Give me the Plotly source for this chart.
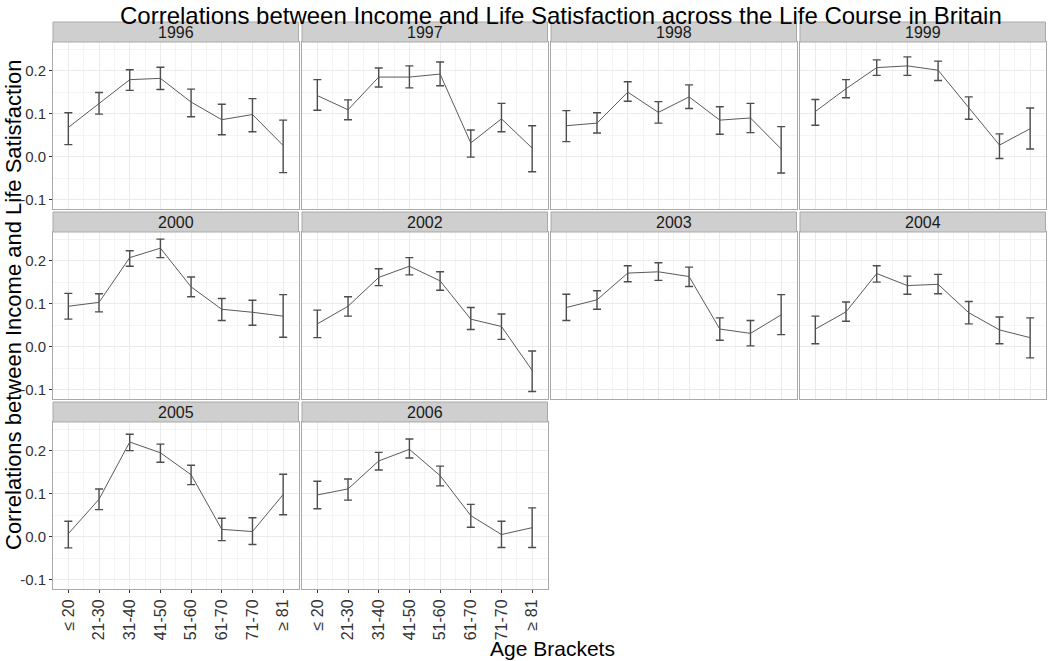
import plotly.graph_objects as go

age_labels = ["≤ 20", "21-30", "31-40", "41-50", "51-60", "61-70", "71-70", "≥ 81"]
years = ["1996", "1997", "1998", "1999", "2000", "2002", "2003", "2004", "2005", "2006"]
y_tick_vals = [-0.1, 0.0, 0.1, 0.2]
y_tick_text = ["-0.1", "0.0", "0.1", "0.2"]

corr_1996 = [0.068, 0.123, 0.179, 0.182, 0.127, 0.086, 0.098, 0.026]
upper_1996 = [0.102, 0.149, 0.202, 0.208, 0.157, 0.122, 0.135, 0.085]
lower_1996 = [0.028, 0.099, 0.154, 0.156, 0.093, 0.051, 0.058, -0.037]

corr_1997 = [0.142, 0.109, 0.185, 0.185, 0.192, 0.032, 0.088, 0.020]
upper_1997 = [0.179, 0.132, 0.206, 0.211, 0.220, 0.062, 0.124, 0.072]
lower_1997 = [0.108, 0.086, 0.162, 0.160, 0.165, -0.001, 0.058, -0.035]

corr_1998 = [0.072, 0.078, 0.150, 0.103, 0.139, 0.085, 0.090, 0.018]
upper_1998 = [0.107, 0.102, 0.174, 0.128, 0.167, 0.116, 0.124, 0.070]
lower_1998 = [0.035, 0.055, 0.129, 0.078, 0.112, 0.052, 0.056, -0.038]

corr_1999 = [0.105, 0.158, 0.207, 0.211, 0.201, 0.113, 0.027, 0.065]
upper_1999 = [0.133, 0.179, 0.225, 0.232, 0.222, 0.139, 0.053, 0.113]
lower_1999 = [0.073, 0.137, 0.189, 0.189, 0.177, 0.087, -0.004, 0.018]

corr_2000 = [0.094, 0.103, 0.207, 0.229, 0.139, 0.087, 0.080, 0.071]
upper_2000 = [0.124, 0.123, 0.223, 0.250, 0.162, 0.112, 0.108, 0.121]
lower_2000 = [0.064, 0.081, 0.187, 0.207, 0.116, 0.061, 0.050, 0.022]

corr_2002 = [0.053, 0.094, 0.161, 0.187, 0.153, 0.064, 0.047, -0.055]
upper_2002 = [0.085, 0.116, 0.181, 0.207, 0.174, 0.091, 0.076, -0.010]
lower_2002 = [0.021, 0.071, 0.142, 0.167, 0.131, 0.040, 0.017, -0.104]

corr_2003 = [0.091, 0.109, 0.171, 0.174, 0.163, 0.041, 0.031, 0.074]
upper_2003 = [0.122, 0.130, 0.188, 0.195, 0.185, 0.067, 0.061, 0.121]
lower_2003 = [0.061, 0.087, 0.151, 0.154, 0.140, 0.015, 0.002, 0.028]

corr_2004 = [0.041, 0.081, 0.170, 0.142, 0.145, 0.079, 0.039, 0.021]
upper_2004 = [0.071, 0.104, 0.188, 0.164, 0.168, 0.105, 0.069, 0.067]
lower_2004 = [0.007, 0.059, 0.150, 0.122, 0.123, 0.053, 0.007, -0.026]

corr_2005 = [0.007, 0.087, 0.220, 0.195, 0.144, 0.017, 0.012, 0.098]
upper_2005 = [0.036, 0.111, 0.238, 0.215, 0.166, 0.043, 0.044, 0.145]
lower_2005 = [-0.026, 0.063, 0.200, 0.173, 0.121, -0.009, -0.018, 0.051]

corr_2006 = [0.097, 0.111, 0.176, 0.203, 0.142, 0.049, 0.005, 0.021]
upper_2006 = [0.129, 0.134, 0.196, 0.227, 0.164, 0.075, 0.036, 0.067]
lower_2006 = [0.065, 0.085, 0.155, 0.183, 0.118, 0.022, -0.025, -0.025]

series = {
    "1996": (corr_1996, upper_1996, lower_1996),
    "1997": (corr_1997, upper_1997, lower_1997),
    "1998": (corr_1998, upper_1998, lower_1998),
    "1999": (corr_1999, upper_1999, lower_1999),
    "2000": (corr_2000, upper_2000, lower_2000),
    "2002": (corr_2002, upper_2002, lower_2002),
    "2003": (corr_2003, upper_2003, lower_2003),
    "2004": (corr_2004, upper_2004, lower_2004),
    "2005": (corr_2005, upper_2005, lower_2005),
    "2006": (corr_2006, upper_2006, lower_2006),
}

W, H = 1050, 661
FONT = "Liberation Sans, Arial, sans-serif"
LEFT0, PW, GAPX = 53.0, 245.5, 3.5
TOP0, PH, STRIP, PITCH = 42.0, 167.0, 20.0, 190.0
YR = [-0.1215, 0.2665]
XR = [0.5, 8.5]
xpos = list(range(1, len(age_labels) + 1))

fig = go.Figure()
shapes = []
annotations = []
layout_axes = {}

for i, yr in enumerate(years):
    r, c = divmod(i, 4)
    left = LEFT0 + c * (PW + GAPX)
    right = left + PW
    top = TOP0 + r * PITCH
    bottom = top + PH
    n = i + 1
    xa = "x" if n == 1 else f"x{n}"
    ya = "y" if n == 1 else f"y{n}"
    corr, up, lo = series[yr]
    fig.add_trace(go.Scatter(
        x=xpos, y=corr, mode="lines", xaxis=xa, yaxis=ya,
        line=dict(color="#5A5A5A", width=1),
        error_y=dict(type="data", symmetric=False,
                     array=[u - v for u, v in zip(up, corr)],
                     arrayminus=[v - l for v, l in zip(corr, lo)],
                     color="#4D4D4D", thickness=1.4, width=4),
        showlegend=False, hoverinfo="skip"))

    show_x = (r == 2)
    show_y = (c == 0)
    xkey = "xaxis" if n == 1 else f"xaxis{n}"
    ykey = "yaxis" if n == 1 else f"yaxis{n}"
    layout_axes[xkey] = dict(
        domain=[left / W, right / W], anchor=ya, range=XR,
        tickmode="array", tickvals=xpos, ticktext=age_labels,
        showticklabels=show_x, ticks="outside" if show_x else "",
        ticklen=3, tickcolor="#333333", tickangle=-90,
        tickfont=dict(family=FONT, size=16, color="#333333"),
        showgrid=True, gridcolor="#EBEBEB", gridwidth=1,
        minor=dict(tickvals=[v + 0.5 for v in xpos[:-1]], showgrid=True,
                   gridcolor="#F4F4F4", gridwidth=0.7),
        showline=True, mirror=True, linecolor="#A9A9A9", linewidth=1,
        zeroline=False, fixedrange=True)
    layout_axes[ykey] = dict(
        domain=[1 - bottom / H, 1 - top / H], anchor=xa, range=YR,
        tickmode="array", tickvals=y_tick_vals, ticktext=y_tick_text,
        showticklabels=show_y, ticks="outside" if show_y else "",
        ticklen=3, tickcolor="#333333",
        tickfont=dict(family=FONT, size=15, color="#333333"),
        showgrid=True, gridcolor="#EBEBEB", gridwidth=1,
        minor=dict(tickvals=[-0.05, 0.05, 0.15, 0.25], showgrid=True,
                   gridcolor="#F4F4F4", gridwidth=0.7),
        showline=True, mirror=True, linecolor="#A9A9A9", linewidth=1,
        zeroline=False, fixedrange=True)

    shapes.append(dict(type="rect", xref="paper", yref="paper",
                       x0=left / W, x1=right / W,
                       y0=1 - top / H, y1=1 - (top - STRIP) / H,
                       fillcolor="#CFCFCF", line=dict(color="#A9A9A9", width=1)))
    annotations.append(dict(text=yr, xref="paper", yref="paper",
                            x=(left + right) / 2 / W, y=1 - (top - STRIP / 2 + 0.5) / H,
                            xanchor="center", yanchor="middle", showarrow=False,
                            font=dict(family=FONT, size=16, color="#1A1A1A")))

annotations.append(dict(
    text="Correlations between Income and Life Satisfaction across the Life Course in Britain",
    xref="paper", yref="paper", x=561 / W, y=1.0, xanchor="center", yanchor="top",
    showarrow=False, font=dict(family=FONT, size=24, color="#000000")))
annotations.append(dict(
    text="Age Brackets", xref="paper", yref="paper", x=552 / W, y=1 - 648 / H,
    xanchor="center", yanchor="middle", showarrow=False,
    font=dict(family=FONT, size=21, color="#000000")))
annotations.append(dict(
    text="Correlations between Income and Life Satisfaction", xref="paper", yref="paper",
    x=13 / W, y=1 - 305 / H, xanchor="center", yanchor="middle", textangle=-90,
    showarrow=False, font=dict(family=FONT, size=22, color="#000000")))

fig.update_layout(
    width=W, height=H, autosize=False,
    margin=dict(l=0, r=0, t=0, b=0),
    paper_bgcolor="white", plot_bgcolor="white",
    shapes=shapes, annotations=annotations,
    font=dict(family=FONT),
    **layout_axes)

fig.write_html("out.html", config={"displayModeBar": False},
               post_script="document.body.style.margin='0px';document.body.style.overflow='hidden';")
